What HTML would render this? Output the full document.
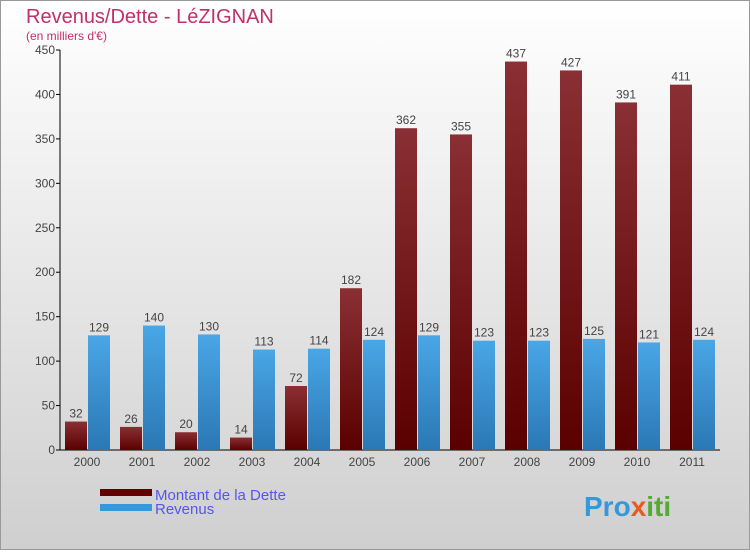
<!DOCTYPE html>
<html><head><meta charset="utf-8"><style>
body{margin:0}
#c{width:750px;height:550px;position:relative;font-family:"Liberation Sans",sans-serif}
</style></head><body>
<div id="c">
<svg width="750" height="550" xmlns="http://www.w3.org/2000/svg">
<defs>
<linearGradient id="bg" x1="0" y1="0" x2="0" y2="1"><stop offset="0" stop-color="#ffffff"/><stop offset="1" stop-color="#cfcfcf"/></linearGradient>
<linearGradient id="gd" x1="0" y1="0" x2="0" y2="1"><stop offset="0" stop-color="#8a3034"/><stop offset="1" stop-color="#5a0000"/></linearGradient>
<linearGradient id="gr" x1="0" y1="0" x2="0" y2="1"><stop offset="0" stop-color="#4aa6e6"/><stop offset="1" stop-color="#2a78b4"/></linearGradient>
</defs>
<rect x="0.5" y="0.5" width="749" height="549" fill="url(#bg)" stroke="#999"/>
<text x="26" y="23" font-size="20" fill="#c0306a">Revenus/Dette - LéZIGNAN</text>
<text x="26" y="40" font-size="12" fill="#c0306a">(en milliers d'€)</text>
<g id="axes"></g>
<g id="bars"></g>
<rect x="100" y="489" width="52" height="7" fill="#600000"/>
<rect x="100" y="504" width="52" height="7" fill="#3399dd"/>
<text x="155" y="500" font-size="15" fill="#5555ee">Montant de la Dette</text>
<text x="155" y="514" font-size="15" fill="#5555ee">Revenus</text>
<text x="584" y="516" font-size="28" font-weight="bold" fill="#e88a20"><tspan fill="#3399dd">Pro</tspan><tspan fill="#e85a20">x</tspan><tspan fill="#55aa33">iti</tspan></text>
</svg>
</div>
<script>
const years=["2000","2001","2002","2003","2004","2005","2006","2007","2008","2009","2010","2011"];
const dette=[32,26,20,14,72,182,362,355,437,427,391,411];
const revenus=[129,140,130,113,114,124,129,123,123,125,121,124];
const ticks=[0,50,100,150,200,250,300,350,400,450];
const NS="http://www.w3.org/2000/svg";
const y=v=>450-v*400/450;
const gx=i=>60+55*i;
function mk(t,a,p){const e=document.createElementNS(NS,t);for(const k in a)e.setAttribute(k,a[k]);p.appendChild(e);return e;}
const ax=document.getElementById('axes'),bg=document.getElementById('bars');
const yl=mk('line',{x1:60,y1:50,x2:60,y2:450,stroke:'#000'},ax);


const xl=mk('line',{x1:60,y1:450,x2:720,y2:450,stroke:'#000'},ax);


ticks.forEach(t=>{
 mk('line',{x1:56,y1:y(t),x2:60,y2:y(t),stroke:'#000'},ax);
 const tx=mk('text',{x:55,y:y(t)+4,'font-size':12,fill:'#444','text-anchor':'end'},ax);tx.textContent=t;
 
 
});
years.forEach((yr,i)=>{
 const x0=gx(i);
 const tx=mk('text',{x:x0+27,y:466,'font-size':12,fill:'#444','text-anchor':'middle'},ax);tx.textContent=yr;
 
 
 const d=mk('rect',{x:x0+5,y:y(dette[i]),width:22,height:450-y(dette[i]),fill:'url(#gd)'},bg);
 
 
 const r=mk('rect',{x:x0+28,y:y(revenus[i]),width:22,height:450-y(revenus[i]),fill:'url(#gr)'},bg);
 
 
 const dl=mk('text',{x:x0+16,y:y(dette[i])-4,'font-size':12,fill:'#444','text-anchor':'middle'},bg);dl.textContent=dette[i];
 
 
 const rl=mk('text',{x:x0+39,y:y(revenus[i])-4,'font-size':12,fill:'#444','text-anchor':'middle'},bg);rl.textContent=revenus[i];
 
 
});
</script>
</body></html>
